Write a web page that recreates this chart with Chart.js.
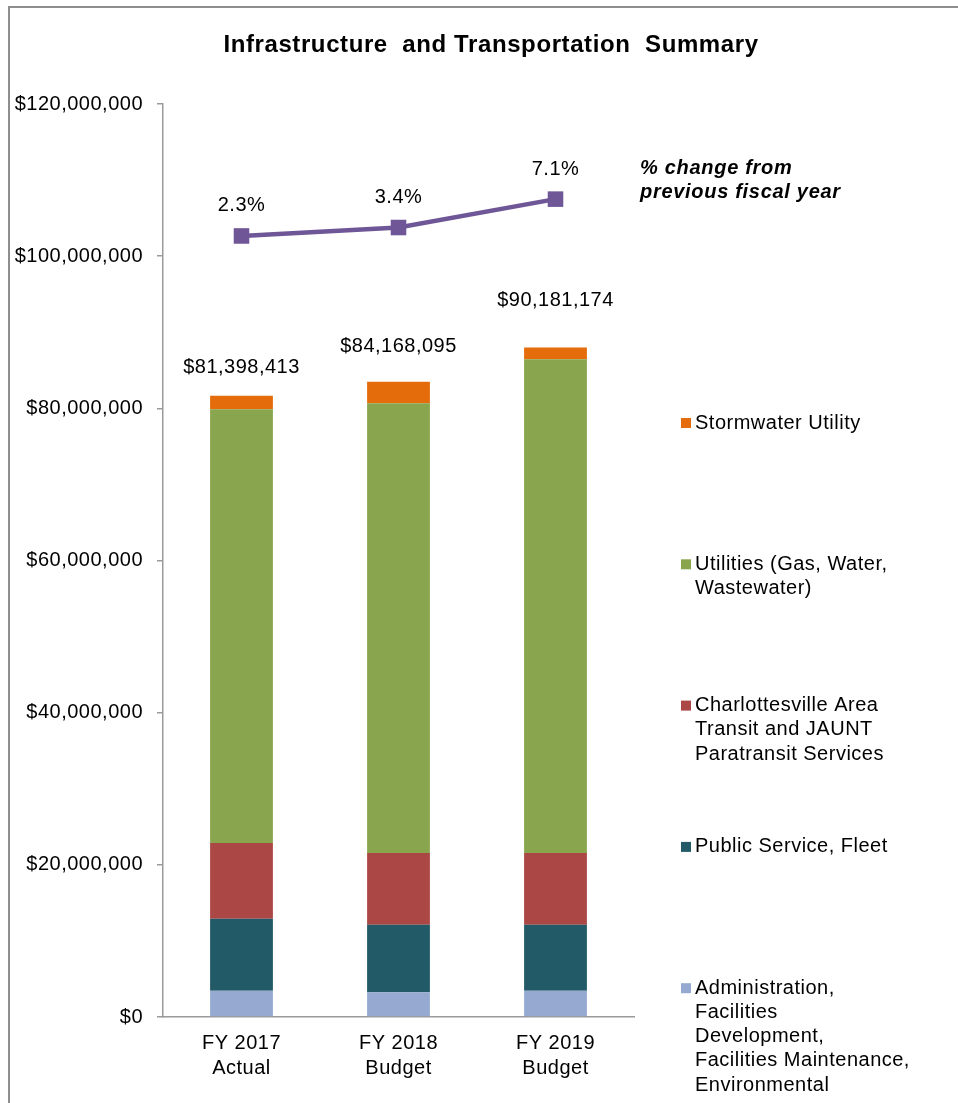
<!DOCTYPE html>
<html>
<head>
<meta charset="utf-8">
<title>Infrastructure and Transportation Summary</title>
<script src="https://cdn.jsdelivr.net/npm/chart.js@4.4.1/dist/chart.umd.min.js"></script>
<style>
  html, body { margin: 0; padding: 0; background: #fff; overflow: hidden; }
  .chart-wrap { position: relative; width: 958px; height: 1103px; }
</style>
</head>
<body>
<div class="chart-wrap"><canvas id="summaryChart"></canvas></div>
<script>
// categories
const years = [["FY 2017", "Actual"], ["FY 2018", "Budget"], ["FY 2019", "Budget"]];

// stacked segments, bottom to top (dollars)
const adminValues = [3460000, 3250000, 3460000];
const fleetValues = [9460000, 8880000, 8670000];
const transitValues = [9950000, 9430000, 9430000];
const utilityValues = [57000000, 59100000, 64890000];
const stormwaterValues = [1800000, 2840000, 1530000];

// printed totals and % change line
const totalLabels = [81398413, 84168095, 90181174];
const pctChange = [2.3, 3.4, 7.1];

const yTicks = [0, 20000000, 40000000, 60000000, 80000000, 100000000, 120000000];

const seriesNames = [
  ["Administration,", "Facilities", "Development,", "Facilities Maintenance,", "Environmental"],
  ["Public Service, Fleet"],
  ["Charlottesville Area", "Transit and JAUNT", "Paratransit Services"],
  ["Utilities (Gas, Water,", "Wastewater)"],
  ["Stormwater Utility"],
];
const seriesColors = ["#95A9D1", "#225A67", "#AB4745", "#89A64F", "#E46C0B"];

const FONT = "'Liberation Sans', Arial, sans-serif";
const AXIS_GREY = "#9A9A9A";

Chart.defaults.font.family = FONT;
Chart.defaults.font.size = 20;
Chart.defaults.color = "#000";

const money = (v) => "$" + Number(v).toLocaleString("en-US");

// frame + slightly wider text spacing like the original
const frame = {
  id: "frame",
  beforeDraw(chart) {
    const { ctx } = chart;
    ctx.letterSpacing = "0.5px";
    ctx.save();
    ctx.strokeStyle = "#8E8E8E";
    ctx.lineWidth = 2;
    ctx.strokeRect(9, 7, 2000, 2000);
    ctx.restore();
  },
};

const titleAndNotes = {
  id: "titleAndNotes",
  afterDraw(chart) {
    const { ctx, chartArea } = chart;
    ctx.save();
    ctx.fillStyle = "#000";
    ctx.textBaseline = "middle";
    ctx.textAlign = "center";
    ctx.letterSpacing = "0.6px";
    ctx.font = `bold 24px ${FONT}`;
    ctx.fillText("Infrastructure  and Transportation  Summary", 491, 45);

    ctx.textAlign = "left";
    ctx.letterSpacing = "0.7px";
    ctx.font = `italic bold 20px ${FONT}`;
    ctx.fillText("% change from", chartArea.right + 6, 168);
    ctx.fillText("previous fiscal year", chartArea.right + 6, 192);
    ctx.restore();
  },
};

const valueLabels = {
  id: "valueLabels",
  afterDatasetsDraw(chart) {
    const { ctx } = chart;
    const x = chart.scales.x, y = chart.scales.y, y2 = chart.scales.y2;
    ctx.save();
    ctx.fillStyle = "#000";
    ctx.font = `20px ${FONT}`;
    ctx.textAlign = "center";
    ctx.textBaseline = "middle";
    totalLabels.forEach((t, i) => {
      ctx.fillText(money(t), x.getPixelForValue(i), y.getPixelForValue(t) - 30);
    });
    pctChange.forEach((p, i) => {
      ctx.fillText(p.toFixed(1) + "%", x.getPixelForValue(i), y2.getPixelForValue(p) - 30);
    });
    ctx.restore();
  },
};

const sideLegend = {
  id: "sideLegend",
  afterDraw(chart) {
    const { ctx, chartArea } = chart;
    const left = chartArea.right + 47;
    ctx.save();
    ctx.font = `20px ${FONT}`;
    ctx.textBaseline = "middle";
    ctx.textAlign = "left";
    // top segment is listed first
    for (let k = seriesNames.length - 1, i = 0; k >= 0; k--, i++) {
      const y0 = chartArea.top + 319 + i * 141.3;
      ctx.fillStyle = seriesColors[k];
      ctx.fillRect(left, y0 - 5, 10, 10);
      ctx.fillStyle = "#000";
      seriesNames[k].forEach((line, j) => ctx.fillText(line, left + 14, y0 + j * 24.2));
    }
    ctx.restore();
  },
};

const segmentData = [adminValues, fleetValues, transitValues, utilityValues, stormwaterValues];

const barSets = segmentData.map((values, i) => ({
  type: "bar",
  label: seriesNames[i].join(" "),
  data: values,
  backgroundColor: seriesColors[i],
  borderWidth: 0,
  categoryPercentage: 1,
  barPercentage: 0.4,
  stack: "total",
  yAxisID: "y",
}));

new Chart(document.getElementById("summaryChart"), {
  data: {
    labels: years,
    datasets: [
      ...barSets,
      {
        type: "line",
        label: "% change from previous fiscal year",
        data: pctChange,
        yAxisID: "y2",
        borderColor: "#6F5697",
        backgroundColor: "#6F5697",
        borderWidth: 4.5,
        pointStyle: "rect",
        pointRadius: 11,
        pointBorderWidth: 0,
        tension: 0,
      },
    ],
  },
  options: {
    responsive: true,
    maintainAspectRatio: false,
    animation: false,
    layout: { padding: { top: 104, right: 324, bottom: 0, left: 0 } },
    plugins: {
      legend: { display: false },
      title: { display: false },
      tooltip: { enabled: false },
    },
    scales: {
      x: {
        stacked: true,
        grid: { display: false, drawTicks: false },
        border: { display: true, color: AXIS_GREY, width: 1.5 },
        ticks: { padding: 14, font: { size: 20, lineHeight: 1.25 }, color: "#000" },
        afterFit: (axis) => { axis.height = 86; },
      },
      y: {
        stacked: true,
        min: 0,
        max: 120000000,
        grid: { display: true, drawOnChartArea: false, drawTicks: true, tickLength: 6, color: AXIS_GREY, lineWidth: 1.5 },
        border: { display: true, color: AXIS_GREY, width: 1.5 },
        afterBuildTicks: (axis) => { axis.ticks = yTicks.map((v) => ({ value: v })); },
        ticks: { padding: 14, color: "#000", callback: (v) => money(v) },
        afterFit: (axis) => { axis.width = 163; },
      },
      y2: {
        display: false,
        min: -99.5,
        max: 19.5,
        stacked: false,
      },
    },
  },
  plugins: [frame, valueLabels, sideLegend, titleAndNotes],
});
</script>
</body>
</html>
